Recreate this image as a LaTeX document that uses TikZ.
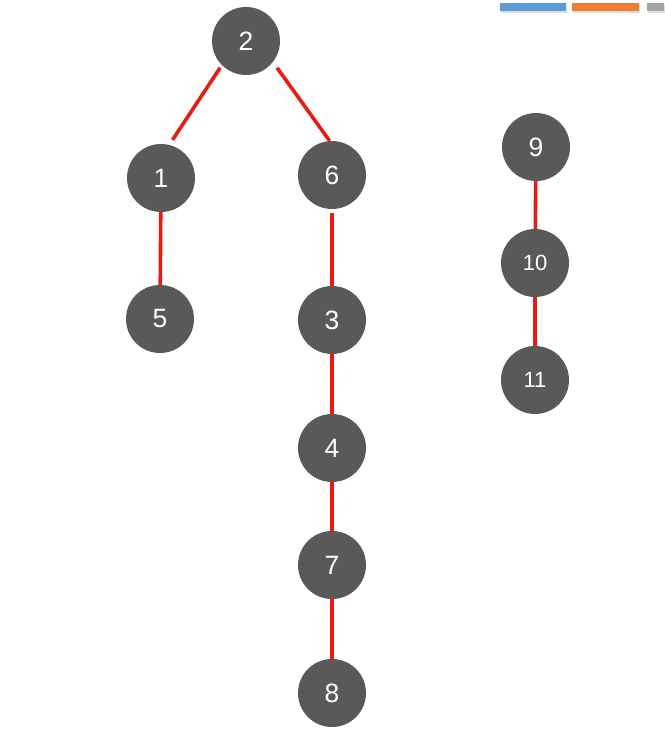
\documentclass[tikz,border=0pt]{standalone}
\usepackage{fontspec}
\setmainfont{Liberation Sans}
\definecolor{nodegray}{HTML}{595959}
\definecolor{edgered}{RGB}{232,28,18}
\definecolor{barblue}{HTML}{5B9BD5}
\definecolor{barorange}{HTML}{ED7D31}
\definecolor{bargray}{HTML}{A5A5A5}
\begin{document}
\begin{tikzpicture}[x=1pt,y=-1pt,
  vtx/.style={circle,fill=nodegray,minimum size=68pt,inner sep=0pt,text=white,font=\fontsize{26.5}{26.5}\selectfont},
  vtxs/.style={vtx,font=\fontsize{22}{22}\selectfont},
  link/.style={edgered,line width=3.6pt},
  shadowbar/.style={fill=black!13}]
\useasboundingbox (0,0) rectangle (664,752);
\fill[white] (0,0) rectangle (664,752);
% top bars
\fill[shadowbar] (501,5) rectangle (567,13);
\fill[barblue] (500,3.5) rectangle (566,11.5);
\fill[shadowbar] (573,5) rectangle (640,13);
\fill[barorange] (572,3.5) rectangle (639,11.5);
\fill[shadowbar] (648,5) rectangle (665,13);
\fill[bargray] (647,3.5) rectangle (664,11.5);
% nodes
\node[vtx] (n2) at (246,41) {2};
\node[vtx] (n1) at (161,178) {1};
\node[vtx] (n6) at (332,175) {6};
\node[vtx] (n5) at (160,319) {5};
\node[vtx] (n3) at (332,320) {3};
\node[vtx] (n4) at (332,448) {4};
\node[vtx] (n7) at (332,565) {7};
\node[vtx] (n8) at (332,693) {8};
\node[vtx] (n9) at (536,147) {9};
\node[vtxs] (n10) at (535,263) {10};
\node[vtxs] (n11) at (535,380) {11};
% edges
\draw[link,shorten <=3pt,shorten >=6pt] (n2.225) -- (n1.76);
\draw[link,shorten <=7pt] (n2.322) -- (n6.94);
\draw[link] (n1) -- (n5);
\draw[link,shorten <=4pt] (n6) -- (n3);
\draw[link] (n3) -- (n4);
\draw[link] (n4) -- (n7);
\draw[link] (n7) -- (n8);
\draw[link] (n9) -- (n10);
\draw[link] (n10) -- (n11);
\end{tikzpicture}
\end{document}
